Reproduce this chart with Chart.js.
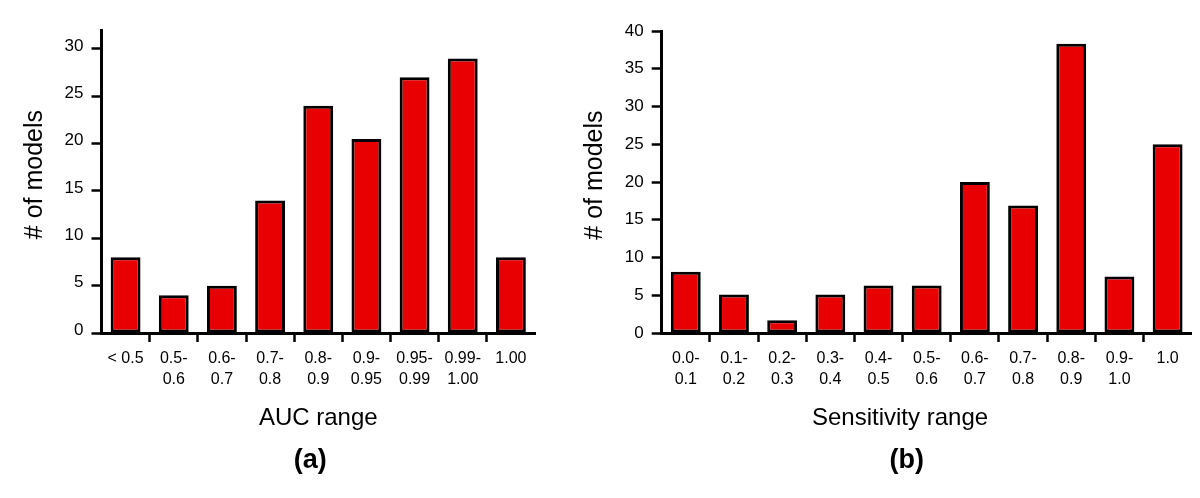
<!DOCTYPE html>
<html>
<head>
<meta charset="utf-8">
<script src="https://cdn.jsdelivr.net/npm/chart.js@4"></script>
<style>
  html, body { margin: 0; padding: 0; background: #fff; overflow: hidden; width: 1200px; height: 498px; }
  canvas { position: absolute; top: 0; }
  #cA { left: 0; }
  #cB { left: 580px; }
</style>
</head>
<body>
<canvas id="cA" width="580" height="498"></canvas>
<canvas id="cB" width="620" height="498"></canvas>
<script>
// ---- data ----
const aucCategories = ['< 0.5', ['0.5-', '0.6'], ['0.6-', '0.7'], ['0.7-', '0.8'], ['0.8-', '0.9'], ['0.9-', '0.95'], ['0.95-', '0.99'], ['0.99-', '1.00'], '1.00'];
const aucCounts = [8, 4, 5, 14, 24, 20.5, 27, 29, 8];
const aucYTicks = [0, 5, 10, 15, 20, 25, 30];
const sensCategories = [['0.0-', '0.1'], ['0.1-', '0.2'], ['0.2-', '0.3'], ['0.3-', '0.4'], ['0.4-', '0.5'], ['0.5-', '0.6'], ['0.6-', '0.7'], ['0.7-', '0.8'], ['0.8-', '0.9'], ['0.9-', '1.0'], '1.0'];
const sensCounts = [8.1, 5.1, 1.7, 5.1, 6.3, 6.3, 20, 16.9, 38.3, 7.5, 25];
const sensYTicks = [0, 5, 10, 15, 20, 25, 30, 35, 40];
const yTitle = '# of models';
const aucTitle = 'AUC range';
const sensTitle = 'Sensitivity range';
const captionA = '(a)';
const captionB = '(b)';

const FONT = '"Liberation Sans", Arial, Helvetica, sans-serif';
Chart.defaults.font.family = FONT;
Chart.defaults.color = '#000';

const captionPlugin = {
  id: 'caption',
  afterDraw(chart, args, opts) {
    const { ctx, chartArea } = chart;
    const xs = chart.scales.x;
    ctx.save();
    ctx.font = 'bold 27px ' + FONT;
    ctx.fillStyle = '#000';
    ctx.textAlign = 'center';
    ctx.textBaseline = 'middle';
    ctx.fillText(opts.text, (chartArea.left + chartArea.right) / 2 + opts.dx, xs.bottom + opts.dy);
    ctx.restore();
  }
};

function makeChart(id, labels, values, yTicks, cfg) {
  const n = labels.length;
  return new Chart(document.getElementById(id), {
    type: 'bar',
    data: {
      labels: labels,
      datasets: [{
        data: values,
        backgroundColor: '#e80000',
        borderColor: '#000',
        borderWidth: 3,
        borderSkipped: false,
        categoryPercentage: 1,
        barPercentage: 0.62
      }]
    },
    plugins: [captionPlugin],
    options: {
      responsive: false,
      animation: false,
      events: [],
      layout: { padding: { top: cfg.top, right: cfg.right, left: 0, bottom: 65.2 } },
      plugins: {
        legend: { display: false },
        tooltip: { enabled: false },
        caption: { text: cfg.caption, dx: cfg.capDx, dy: 28.2 }
      },
      scales: {
        x: {
          offset: true,
          border: { display: true, color: '#000', width: 3 },
          grid: {
            offset: true,
            drawOnChartArea: false,
            drawTicks: true,
            tickLength: 9,
            tickWidth: 2.5,
            tickColor: (ctx) => (ctx.type === 'tick' && ctx.index > 0 && ctx.index < n) ? '#000' : 'rgba(0,0,0,0)'
          },
          ticks: {
            autoSkip: false,
            maxRotation: 0,
            minRotation: 0,
            padding: 6,
            color: '#000',
            font: { size: 16, lineHeight: 1.3125 }
          },
          title: {
            display: true,
            text: cfg.xTitle,
            color: '#000',
            font: { size: 24, lineHeight: 1.2 },
            padding: { top: 8, bottom: 0 }
          }
        },
        y: {
          min: 0,
          max: cfg.max,
          border: { display: true, color: '#000', width: 3 },
          grid: {
            drawOnChartArea: false,
            drawTicks: true,
            tickLength: 10,
            tickWidth: 2.5,
            tickColor: '#000'
          },
          ticks: {
            padding: 8,
            labelOffset: cfg.labelOffset,
            color: '#000',
            font: { size: 17 }
          },
          afterBuildTicks: (scale) => { scale.ticks = yTicks.map(v => ({ value: v })); },
          afterFit: (scale) => { scale.width = cfg.yWidth; },
          title: {
            display: true,
            text: '  ' + yTitle,
            color: '#000',
            font: { size: 25, lineHeight: 1.2 },
            padding: { top: cfg.yTitlePad, bottom: 0 }
          }
        }
      }
    }
  });
}

makeChart('cA', aucCategories, aucCounts, aucYTicks, {
  top: 30, right: 45, max: 32, yWidth: 101.5, yTitlePad: 20, labelOffset: -3,
  xTitle: aucTitle, caption: captionA, capDx: -8
});
makeChart('cB', sensCategories, sensCounts, sensYTicks, {
  top: 31, right: 8.3, max: 40, yWidth: 81.7, yTitlePad: 0, labelOffset: 0,
  xTitle: sensTitle + '        ', caption: captionB, capDx: -20
});
</script>
</body>
</html>
